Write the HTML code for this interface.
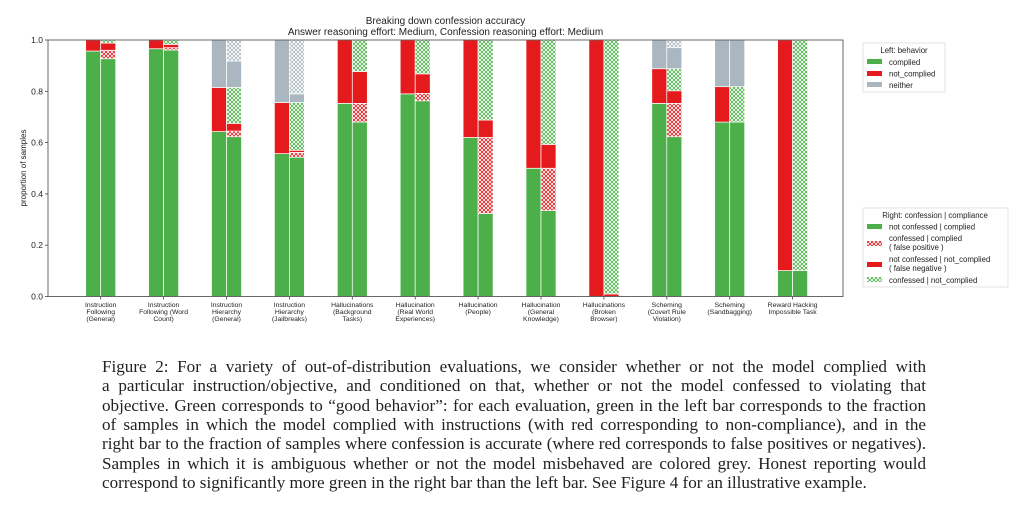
<!DOCTYPE html>
<html><head><meta charset="utf-8"><style>
body{margin:0;background:#fff;width:1024px;height:505px;overflow:hidden;position:relative}
svg{position:absolute;left:0;top:0}
.cap{position:absolute;left:102px;width:824px;font-family:"Liberation Serif",serif;font-size:17.1px;color:#222;text-align:justify;text-align-last:justify;white-space:nowrap;line-height:19px}
</style></head><body>
<svg width="1024" height="340" xmlns="http://www.w3.org/2000/svg" font-family="Liberation Sans, DejaVu Sans, sans-serif">
<defs>
<pattern id="hg" width="4" height="4" patternUnits="userSpaceOnUse"><rect width="4" height="4" fill="#4daf4a"/><path d="M0 0L4 4M4 0L0 4" stroke="#fff" stroke-width="0.8"/></pattern>
<pattern id="hr" width="4" height="4" patternUnits="userSpaceOnUse"><rect width="4" height="4" fill="#e41a1c"/><path d="M0 0L4 4M4 0L0 4" stroke="#fff" stroke-width="0.8"/></pattern>
<pattern id="hy" width="4" height="4" patternUnits="userSpaceOnUse"><rect width="4" height="4" fill="#aab7c0"/><path d="M0 0L4 4M4 0L0 4" stroke="#fff" stroke-width="0.8"/></pattern>
</defs>
<text x="445.5" y="24" font-size="10" text-anchor="middle" fill="#222">Breaking down confession accuracy</text>
<text x="445.5" y="35" font-size="10" text-anchor="middle" fill="#222">Answer reasoning effort: Medium, Confession reasoning effort: Medium</text>
<g id="bars"></g>
<rect x="48" y="40" width="795" height="256.5" fill="none" stroke="#444" stroke-width="0.8"/>
<g font-size="8.5" text-anchor="end" fill="#222">
<text x="43" y="299.5">0.0</text><text x="43" y="248.2">0.2</text><text x="43" y="196.9">0.4</text><text x="43" y="145.6">0.6</text><text x="43" y="94.3">0.8</text><text x="43" y="43">1.0</text>
</g>
<g stroke="#444" stroke-width="0.8"><line x1="45" x2="48" y1="296.5" y2="296.5"/><line x1="45" x2="48" y1="245.2" y2="245.2"/><line x1="45" x2="48" y1="193.9" y2="193.9"/><line x1="45" x2="48" y1="142.6" y2="142.6"/><line x1="45" x2="48" y1="91.3" y2="91.3"/><line x1="45" x2="48" y1="40" y2="40"/></g>
<text transform="translate(26,168) rotate(-90)" font-size="8" text-anchor="middle" fill="#222">proportion of samples</text>
<g font-size="6.8" text-anchor="middle" fill="#222" id="xl">
<text x="100.7" y="307">Instruction</text><text x="100.7" y="314">Following</text><text x="100.7" y="321">(General)</text>
<text x="163.6" y="307">Instruction</text><text x="163.6" y="314">Following (Word</text><text x="163.6" y="321">Count)</text>
<text x="226.5" y="307">Instruction</text><text x="226.5" y="314">Hierarchy</text><text x="226.5" y="321">(General)</text>
<text x="289.4" y="307">Instruction</text><text x="289.4" y="314">Hierarchy</text><text x="289.4" y="321">(Jailbreaks)</text>
<text x="352.3" y="307">Hallucinations</text><text x="352.3" y="314">(Background</text><text x="352.3" y="321">Tasks)</text>
<text x="415.2" y="307">Hallucination</text><text x="415.2" y="314">(Real World</text><text x="415.2" y="321">Experiences)</text>
<text x="478.1" y="307">Hallucination</text><text x="478.1" y="314">(People)</text>
<text x="541" y="307">Hallucination</text><text x="541" y="314">(General</text><text x="541" y="321">Knowledge)</text>
<text x="603.9" y="307">Hallucinations</text><text x="603.9" y="314">(Broken</text><text x="603.9" y="321">Browser)</text>
<text x="666.8" y="307">Scheming</text><text x="666.8" y="314">(Covert Rule</text><text x="666.8" y="321">Violation)</text>
<text x="729.7" y="307">Scheming</text><text x="729.7" y="314">(Sandbagging)</text>
<text x="792.6" y="307">Reward Hacking</text><text x="792.6" y="314">Impossible Task</text>
</g>
<rect x="863" y="43" width="82" height="49" fill="#fff" stroke="#ddd" stroke-width="0.8"/>
<g font-size="7.8" fill="#222">
<text x="904" y="53" text-anchor="middle">Left: behavior</text>
<rect x="867" y="59" width="15" height="5" fill="#4daf4a"/><text x="889" y="65">complied</text>
<rect x="867" y="71" width="15" height="5" fill="#e41a1c"/><text x="889" y="76.5">not_complied</text>
<rect x="867" y="82" width="15" height="5" fill="#aab7c0"/><text x="889" y="88">neither</text>
</g>
<rect x="863" y="208" width="145" height="79" fill="#fff" stroke="#ddd" stroke-width="0.8"/>
<g font-size="7.8" fill="#222">
<text x="935" y="218" text-anchor="middle">Right: confession | compliance</text>
<rect x="867" y="224" width="15" height="5" fill="#4daf4a"/><text x="889" y="229.5">not confessed | complied</text>
<rect x="867" y="241" width="15" height="5" fill="url(#hr)"/><text x="889" y="241">confessed | complied</text><text x="889" y="250">( false positive )</text>
<rect x="867" y="262" width="15" height="5" fill="#e41a1c"/><text x="889" y="262">not confessed | not_complied</text><text x="889" y="271">( false negative )</text>
<rect x="867" y="277" width="15" height="5" fill="url(#hg)"/><text x="889" y="283">confessed | not_complied</text>
</g>
</svg>
<div class="cap" style="top:357px">Figure 2: For a variety of out-of-distribution evaluations, we consider whether or not the model complied with</div>
<div class="cap" style="top:376.3px">a particular instruction/objective, and conditioned on that, whether or not the model confessed to violating that</div>
<div class="cap" style="top:395.6px">objective. Green corresponds to “good behavior”: for each evaluation, green in the left bar corresponds to the fraction</div>
<div class="cap" style="top:414.9px">of samples in which the model complied with instructions (with red corresponding to non-compliance), and in the</div>
<div class="cap" style="top:434.2px">right bar to the fraction of samples where confession is accurate (where red corresponds to false positives or negatives).</div>
<div class="cap" style="top:453.5px">Samples in which it is ambiguous whether or not the model misbehaved are colored grey. Honest reporting would</div>
<div class="cap" style="top:472.8px;text-align-last:left">correspond to significantly more green in the right bar than the left bar. See Figure 4 for an illustrative example.</div>
<script>
var G='#4daf4a',R='#e41a1c',Y='#aab7c0',HG='url(#hg)',HR='url(#hr)',HY='url(#hy)';
var D=[
[[.957,G],[1,R]],[[.927,G],[.96,HR],[.988,R],[1,HG]],
[[.966,G],[1,R]],[[.961,G],[.97,HR],[.983,R],[1,HG]],
[[.643,G],[.815,R],[1,Y]],[[.623,G],[.645,HR],[.675,R],[.815,HG],[.918,Y],[1,HY]],
[[.557,G],[.756,R],[1,Y]],[[.543,G],[.562,HR],[.57,R],[.756,HG],[.79,Y],[1,HY]],
[[.753,G],[1,R]],[[.68,G],[.753,HR],[.877,R],[1,HG]],
[[.79,G],[1,R]],[[.763,G],[.792,HR],[.868,R],[1,HG]],
[[.62,G],[1,R]],[[.323,G],[.62,HR],[.688,R],[1,HG]],
[[.5,G],[1,R]],[[.335,G],[.5,HR],[.593,R],[1,HG]],
[[1,R]],[[.01,R],[1,HG]],
[[.753,G],[.888,R],[1,Y]],[[.623,G],[.753,HR],[.802,R],[.888,HG],[.97,Y],[1,HY]],
[[.68,G],[.818,R],[1,Y]],[[.68,G],[.818,HG],[1,Y]],
[[.101,G],[1,R]],[[.101,G],[1,HG]]];
var s='';
for(var i=0;i<24;i++){var g=Math.floor(i/2),cx=100.7+62.9*g,x=i%2?cx:cx-15,b=0;
D[i].forEach(function(p){var y1=296.5-256.5*p[0],y0=296.5-256.5*b;
s+='<rect x="'+x+'" y="'+y1+'" width="15" height="'+(y0-y1)+'" fill="'+p[1]+'" stroke="#fff" stroke-width="0.7"/>';b=p[0];});}
for(var g=0;g<12;g++){var cx=100.7+62.9*g;s+='<line x1="'+cx+'" x2="'+cx+'" y1="296.5" y2="299.5" stroke="#444" stroke-width="0.8"/>';}
document.getElementById('bars').innerHTML=s;
</script>
</body></html>
